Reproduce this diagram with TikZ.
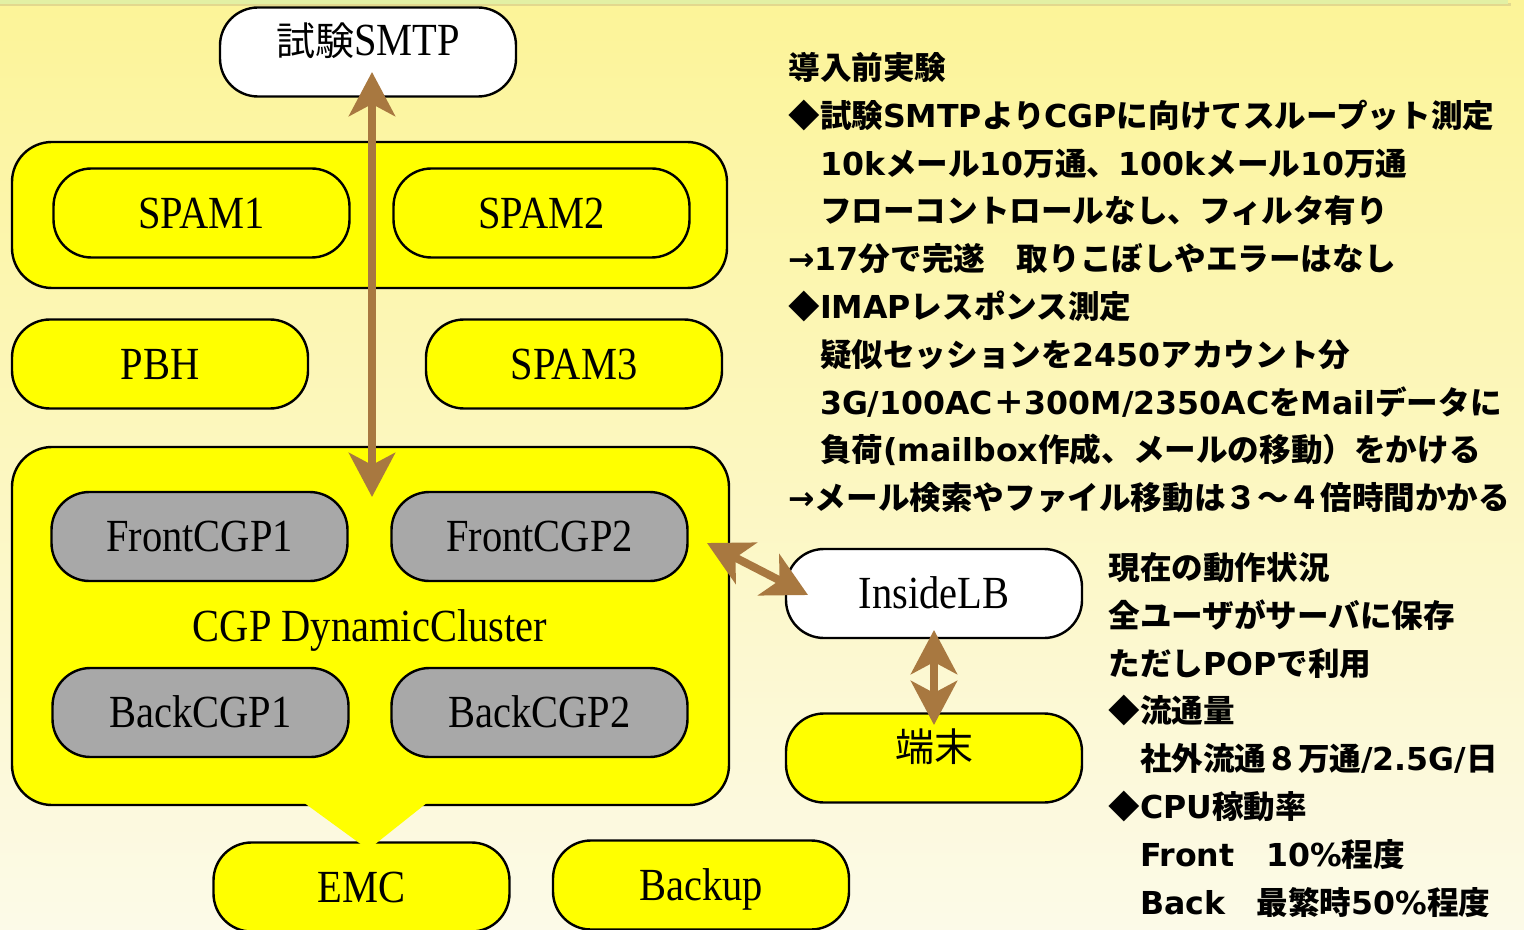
\documentclass[tikz,border=0pt]{standalone}
\usepackage{fontspec}
\usetikzlibrary{arrows.meta,calc}
\newfontfamily\serifn[FakeStretch=0.88]{Liberation Serif}
\newfontfamily\jp{Noto Sans CJK JP}
\newfontfamily\latb{DejaVu Sans Bold}
\newfontfamily\arrf{DejaVu Sans}
\newcommand\lt[1]{{\latb #1}}
\newcommand\ar{{\arrf →}}
\definecolor{boxyel}{RGB}{255,255,0}
\definecolor{boxgray}{RGB}{168,168,168}
\definecolor{arrbrown}{RGB}{168,120,64}
\definecolor{bgtop}{RGB}{252,244,152}
\definecolor{bgbot}{RGB}{252,250,232}
\definecolor{topband}{RGB}{226,240,164}
\definecolor{bandshadow}{RGB}{226,216,142}
\begin{document}
\begin{tikzpicture}[x=0.5pt,y=-0.5pt,
  box/.style={draw=black, line width=1.2pt, rounded corners=19pt,
    minimum width=148pt, minimum height=44.5pt, inner sep=0pt,
    text height=15.1pt, text depth=0pt,
    font=\serifn\fontsize{23}{25}\selectfont},
  yelbox/.style={box, fill=boxyel},
  graybox/.style={box, fill=boxgray},
  whitebox/.style={box, fill=white},
  grp/.style={draw=black, line width=1.2pt, rounded corners=20pt, fill=boxyel, inner sep=0pt},
  lbl/.style={inner sep=0pt, text height=15.1pt, text depth=0pt, font=\serifn\fontsize{23}{25}\selectfont},
  conn/.style={draw=arrbrown, line width=4pt,
    {Stealth[length=22pt,width=23pt,inset=6pt]}-{Stealth[length=22pt,width=23pt,inset=6pt]}},
  notes/.style={align=left, inner sep=0pt, anchor=north west,
    font=\jp\bfseries\fontsize{15.8}{23.9}\selectfont}
]
\useasboundingbox (0,0) rectangle (1524,930);
\shade[top color=bgtop, bottom color=bgbot] (0,0) rectangle (1524,930);
\fill[bandshadow] (0,3) rectangle (1511,6);
\fill[topband] (0,0) rectangle (1508,4);

% SMTP
\node[whitebox] (smtp) at (368,52) {\raisebox{6pt}{{\jp\fontsize{19.5}{22}\selectfont 試験}SMTP}};

% SPAM group
\node[grp, minimum width=357.5pt, minimum height=73pt] (spamgrp) at (369.5,215) {};
\node[yelbox] (spam1) at (201.5,213) {SPAM1};
\node[yelbox] (spam2) at (541.5,213) {SPAM2};

\node[yelbox] (pbh) at (160,364) {PBH};
\node[yelbox] (spam3) at (574,364) {SPAM3};

% Cluster
\node[grp, minimum width=358.5pt, minimum height=179pt] (cluster) at (370.5,626) {};
\node[graybox] (front1) at (199.5,536.5) {FrontCGP1};
\node[graybox] (front2) at (539.5,536.5) {FrontCGP2};
\node[lbl] (clusterlbl) at (370,626) {CGP DynamicCluster};
\node[graybox] (back1) at (200.5,712.5) {BackCGP1};
\node[graybox] (back2) at (539.5,712.5) {BackCGP2};

% bottom
\node[yelbox] (emc) at (361.5,887) {EMC};
\node[yelbox] (backup) at (701,885) {Backup};

% funnel from cluster to EMC
\coordinate (fl) at (303,802);
\coordinate (fr) at (428,802);
\fill[boxyel] (fl) -- (fr) -- (374,845) -- (362,845) -- cycle;

% right column boxes
\node[whitebox] (lb) at (934,593.5) {InsideLB};
\node[yelbox] (term) at (934,758) {\raisebox{6pt}{\jp\fontsize{19.5}{22}\selectfont 端末}};

% arrows
\coordinate (a1) at (372,72);
\coordinate (a2) at (372,497);
\draw[conn] (a1) -- (a2);
\coordinate (b1) at (707,543);
\coordinate (b2) at (808,595);
\draw[conn] (b1) -- (b2);
\coordinate (c1) at (934,630);
\coordinate (c2) at (934,725);
\draw[conn] (c1) -- (c2);

% notes
\node[notes] (notes1) at (788,52) {導入前実験\\
◆試験\lt{SMTP}より\lt{CGP}に向けてスループット測定\\
　\lt{10k}メール\lt{10}万通、\lt{100k}メール\lt{10}万通\\
　フローコントロールなし、フィルタ有り\\
\ar\lt{17}分で完遂　取りこぼしやエラーはなし\\
◆\lt{IMAP}レスポンス測定\\
　疑似セッションを\lt{2450}アカウント分\\
　\lt{3G/100AC}＋\lt{300M/2350AC}を\lt{Mail}データに\\
　負荷\lt{(mailbox}作成、メールの移動）をかける\\
\ar メール検索やファイル移動は３～４倍時間かかる};

\node[notes] (notes2) at (1108,552) {現在の動作状況\\
全ユーザがサーバに保存\\
ただし\lt{POP}で利用\\
◆流通量\\
　社外流通８万通\lt{/2.5G/}日\\
◆\lt{CPU}稼動率\\
　\lt{Front}　\lt{10\%}程度\\
　\lt{Back}　最繁時\lt{50\%}程度};
\end{tikzpicture}
\end{document}
